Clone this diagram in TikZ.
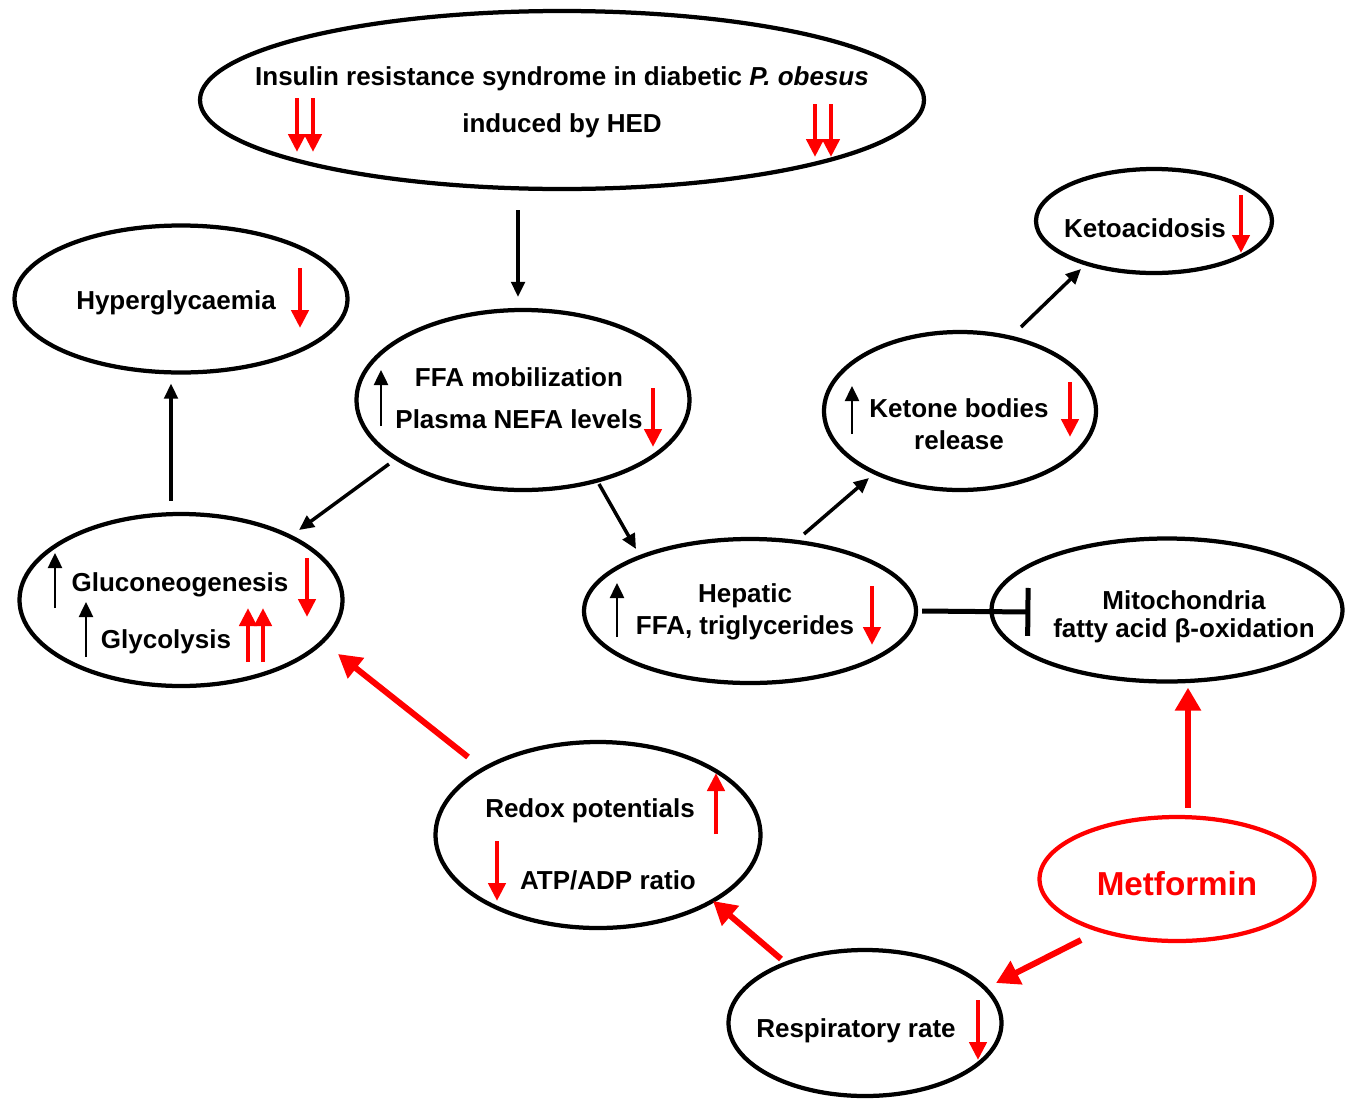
\documentclass[tikz,border=0pt]{standalone}
\usepackage{fontspec}
\setmainfont{Liberation Sans}
\usetikzlibrary{shapes.geometric,arrows.meta,calc}
\begin{document}
\begin{tikzpicture}[x=0.02cm,y=-0.02cm,
 ell/.style 2 args={ellipse,draw,line width=0.085cm,inner sep=0pt,minimum width=#1*0.02cm,minimum height=#2*0.02cm},
 lbl/.style={font=\fontsize{14.8}{17}\selectfont\bfseries,inner sep=0pt,anchor=center,yshift=-0.06cm},
 conn/.style={line width=0.07cm,-{Triangle[length=0.3cm,width=0.27cm]}},
 rconn/.style={red,line width=0.12cm,-{Triangle[length=0.46cm,width=0.5cm]}},
 upind/.style={line width=0.05cm,-{Triangle[length=0.3cm,width=0.28cm]}},
 rind/.style={red,line width=0.09cm,-{Triangle[length=0.36cm,width=0.34cm]}},
]
\useasboundingbox (0,0) rectangle (1352,1099);

% ellipses
\node[ell={724}{178}] (top) at (562,100) {};
\node[ell={333}{147}] (hyper) at (181,299) {};
\node[ell={333}{180}] (ffa) at (523,400) {};
\node[ell={236}{104}] (keto) at (1154,221) {};
\node[ell={272}{158}] (ketone) at (960,411) {};
\node[ell={323}{172}] (gluco) at (181,600) {};
\node[ell={332}{144}] (hep) at (750,611) {};
\node[ell={351}{143}] (mito) at (1167,610) {};
\node[ell={325}{186}] (redox) at (598,835) {};
\node[ell={275}{124},draw=red] (met) at (1177,879) {};
\node[ell={273}{146}] (resp) at (865,1023) {};

% texts
\node[lbl] (t1) at (562,76) {Insulin resistance syndrome in diabetic \textit{P. obesus}};
\node[lbl] (t2) at (562,123) {induced by HED};
\node[lbl] (t3) at (176,300) {Hyperglycaemia};
\node[lbl] (t4) at (519,374) {FFA mobilization};
\node[lbl] (t5) at (519,416) {Plasma NEFA levels};
\node[lbl] (t6) at (1145,225) {Ketoacidosis};
\node[lbl] (t7) at (959,405) {Ketone bodies};
\node[lbl] (t8) at (959,437) {release};
\node[lbl] (t9) at (180,582) {Gluconeogenesis};
\node[lbl] (t10) at (166,639) {Glycolysis};
\node[lbl] (t11) at (745,593) {Hepatic};
\node[lbl] (t12) at (745,625) {FFA, triglycerides};
\node[lbl] (t13) at (1184,597) {Mitochondria};
\node[lbl] (t14) at (1184,628) {fatty acid β-oxidation};
\node[lbl] (t15) at (590,808) {Redox potentials};
\node[lbl] (t16) at (608,877) {ATP/ADP ratio};
\node[lbl] (t17) at (856,1028) {Respiratory rate};
\node[lbl,red,font=\fontsize{18.9}{22}\selectfont\bfseries] (t18) at (1177,881) {Metformin};

% connectors
\draw[conn] ($(top.south)+(-44,19)$) -- ($(ffa.north)+(-5,-11)$);
\draw[conn] ($(gluco.north)+(-10,-11)$) -- ($(hyper.south)+(-10,9)$);
\draw[conn] ($(ffa.center)+(-134,64)$) -- ($(gluco.center)+(118,-70)$);
\draw[conn] ($(ffa.center)+(76,84)$) -- ($(hep.center)+(-114,-62)$);
\draw[conn] ($(hep.center)+(54,-77)$) -- ($(ketone.center)+(-91,67)$);
\draw[conn] ($(ketone.center)+(61,-84)$) -- ($(keto.center)+(-73,48)$);
\draw[line width=0.1cm,-{Bar[width=0.96cm]}] ($(hep.east)+(4,0)$) -- ($(mito.west)+(41,2)$);
\draw[rconn] ($(met.north)+(11,-7)$) -- ($(mito.south)+(21,4)$);
\draw[rconn] ($(met.center)+(-96,61)$) -- ($(resp.center)+(131,-40)$);
\draw[rconn] ($(resp.center)+(-84,-64)$) -- ($(redox.center)+(115,66)$);
\draw[rconn] ($(redox.center)+(-130,-78)$) -- ($(gluco.center)+(157,54)$);

% indicator arrows
\draw[rind] (297,98) -- (297,152);
\draw[rind] (313,98) -- (313,152);
\draw[rind] (815,104) -- (815,157);
\draw[rind] (831,104) -- (831,157);
\draw[rind] (300,268) -- (300,328);
\draw[upind] (381,426) -- (381,370);
\draw[rind] (653,388) -- (653,447);
\draw[upind] (55,608) -- (55,553);
\draw[upind] (86,657) -- (86,602);
\draw[rind] (307,558) -- (307,617);
\draw[rind] (248,662) -- (248,608);
\draw[rind] (263,662) -- (263,608);
\draw[rind] (1241,195) -- (1241,253);
\draw[upind] (852,434) -- (852,386);
\draw[rind] (1070,382) -- (1070,437);
\draw[upind] (617,637) -- (617,583);
\draw[rind] (872,586) -- (872,645);
\draw[rind] (716,834) -- (716,773);
\draw[rind] (497,841) -- (497,901);
\draw[rind] (978,1000) -- (978,1060);
\end{tikzpicture}
\end{document}
